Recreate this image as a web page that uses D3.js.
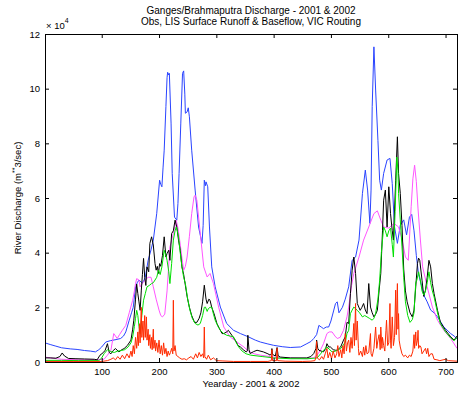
<!DOCTYPE html>
<html><head><meta charset="utf-8">
<script src="https://cdn.jsdelivr.net/npm/d3@7"></script>
<style>
body{margin:0;background:#fff;}
text{font-family:"Liberation Sans",Arial,Helvetica,sans-serif;}
</style></head>
<body><svg id="c" width="458" height="393"></svg>
<script>
// values in units of 10^4 m^3/sec, [yearday, discharge]
const titleLines = ["Ganges/Brahmaputra Discharge - 2001 & 2002", "Obs, LIS Surface Runoff & Baseflow, VIC Routing"];
const xTicks = [100,200,300,400,500,600,700];
const yTicks = [0,2,4,6,8,10,12];

const blueSeries = [[1,0.70],[10,0.64],[20,0.58],[30,0.52],[45,0.48],[57,0.46],[70,0.42],[80,0.40],[89,0.37],[95,0.45],[100,0.55],[107,0.73],[115,0.78],[125,0.82],[133,0.86],[138,0.95],[142,1.10],[148,1.53],[152,1.80],[155,2.00],[159,2.75],[162,2.90],[165,3.00],[170,2.90],[173,2.95],[176,3.10],[181,3.72],[186,4.10],[190,4.46],[196,5.44],[201,6.65],[203,6.50],[205,6.41],[207,7.10],[209,7.75],[212,9.34],[214,10.4],[215,10.6],[217,10.5],[218,10.56],[221,8.74],[223,6.9],[227,5.3],[231,5.19],[233,5.8],[235,6.9],[238,8.74],[241,10.56],[243,10.65],[245,9.8],[246,9.1],[249,9.15],[251,9.3],[253,8.97],[257,7.75],[263,6.29],[269,4.94],[275,4.34],[277,5.0],[279,6.65],[281,6.45],[282,6.59],[285,6.41],[288,4.94],[292,3.48],[298,2.75],[307,2.01],[318,1.41],[330,1.16],[342,1.04],[356,0.92],[368,0.80],[377,0.73],[390,0.66],[400,0.61],[415,0.56],[429,0.53],[447,0.55],[458,0.67],[465,0.75],[470,0.86],[475,1.00],[479,1.34],[483,1.28],[487,1.22],[492,1.28],[496,1.28],[500,1.50],[505,1.90],[508,2.14],[511,2.20],[514,1.80],[520,2.00],[525,2.30],[531,2.75],[537,3.72],[543,3.84],[549,4.46],[555,6.17],[560,7.02],[564,6.29],[568,5.07],[570,6.29],[572,9.34],[575,11.53],[578,9.95],[582,8.11],[585,6.65],[588,6.29],[592,6.9],[598,7.39],[603,7.45],[607,6.53],[611,4.94],[616,4.34],[621,5.0],[627,5.2],[632,4.65],[637,5.3],[641,5.4],[645,4.8],[649,3.9],[653,3.2],[658,2.8],[662,2.45],[668,2.2],[674,1.9],[680,1.8],[686,1.65],[697,1.28],[709,1.04],[715,0.95],[720,0.85]];

const magentaSeries = [[1,0.18],[10,0.15],[30,0.10],[60,0.08],[90,0.08],[104,0.10],[110,0.25],[116,0.43],[121,1.04],[124,0.95],[127,0.86],[131,1.0],[136,1.16],[142,1.34],[148,1.8],[154,2.26],[157,2.6],[159,2.87],[161,3.05],[165,3.0],[167,2.75],[172,2.9],[176,3.0],[181,3.1],[186,3.1],[190,2.75],[195,2.3],[200,1.9],[203,1.70],[206,1.65],[210,1.75],[214,2.6],[219,4.21],[225,4.7],[230,5.19],[233,4.9],[236,4.46],[240,3.8],[243,3.36],[246,3.5],[249,3.84],[253,4.6],[257,5.43],[261,6.04],[263,6.1],[266,5.92],[272,4.7],[278,3.48],[284,3.11],[289,3.24],[295,2.87],[304,2.01],[313,1.28],[324,0.92],[336,0.73],[348,0.55],[356,0.4],[366,0.3],[377,0.25],[400,0.18],[430,0.14],[458,0.12],[470,0.16],[476,0.25],[482,0.45],[487,0.67],[493,1.04],[497,1.1],[502,1.1],[507,0.95],[511,0.86],[516,0.9],[522,1.16],[528,1.65],[531,2.01],[536,2.8],[540,3.24],[549,3.84],[557,4.46],[566,4.94],[575,5.43],[581,5.53],[587,5.19],[592,4.94],[601,4.9],[610,5.07],[618,4.94],[624,4.5],[630,3.84],[635,3.72],[640,5.68],[643,6.7],[646,7.2],[649,6.6],[652,5.6],[656,4.5],[660,3.48],[668,2.75],[677,2.01],[686,1.53],[697,1.16],[709,0.86],[720,0.5]];

const obsSeries = [[1,0.15],[10,0.15],[20,0.14],[27,0.2],[31,0.33],[35,0.22],[42,0.13],[55,0.12],[70,0.11],[87,0.10],[92,0.08],[97,0.25],[103,0.35],[106,0.43],[110,0.67],[113,0.35],[116,0.30],[120,0.42],[124,0.49],[130,0.37],[135,0.45],[139,0.49],[145,0.61],[151,0.8],[154,1.2],[156,1.53],[159,2.3],[161,2.85],[163,2.5],[165,2.2],[167,1.89],[169,2.6],[171,3.2],[173,3.79],[175,3.1],[177,2.8],[179,3.48],[182,3.3],[184,4.34],[187,4.58],[190,4.28],[193,3.6],[195,3.36],[197,3.5],[199,3.24],[201,3.6],[203,3.5],[206,3.9],[209,4.58],[212,3.84],[214,3.97],[217,4.09],[219,3.72],[222,4.7],[225,4.8],[228,5.19],[231,4.94],[234,4.46],[237,4.09],[240,3.48],[243,3.2],[246,2.8],[249,2.4],[253,2.0],[257,1.7],[262,1.45],[266,1.45],[270,1.6],[273,1.8],[276,2.2],[279,2.81],[282,2.3],[284,2.14],[287,2.3],[289,2.26],[292,2.0],[296,1.77],[301,1.41],[304,1.28],[310,1.04],[313,1.04],[318,1.1],[321,1.16],[327,0.98],[333,0.8],[338,0.6],[342,0.55],[347,0.45],[352,0.37],[354,0.4],[355,0.98],[357,0.45],[359,0.31],[365,0.38],[371,0.43],[382,0.37],[390,0.3],[394,0.25],[396,0.3],[397,0.49],[398,0.28],[403,0.22],[406,0.53],[408,0.22],[412,0.18],[429,0.15],[458,0.15],[465,0.2],[470,0.31],[474,0.5],[475,0.8],[477,0.5],[479,0.43],[487,0.37],[491,0.5],[493,0.67],[496,0.55],[499,0.55],[504,0.45],[508,0.43],[511,0.43],[517,0.55],[522,0.8],[525,0.92],[528,1.45],[531,1.41],[534,2.5],[537,3.36],[540,3.84],[543,3.24],[546,2.14],[551,1.89],[554,2.0],[557,2.14],[560,1.9],[563,1.77],[566,2.87],[569,2.01],[572,1.8],[575,1.65],[578,1.75],[581,1.89],[584,2.6],[587,3.24],[590,4.8],[592,5.92],[595,6.29],[598,4.94],[601,6.41],[604,5.43],[607,4.8],[609,4.46],[613,6.65],[616,8.24],[618,6.9],[621,6.17],[624,5.0],[627,3.4],[630,2.6],[633,2.2],[638,1.8],[642,1.65],[645,1.9],[648,2.75],[651,3.6],[653,3.8],[655,3.72],[659,2.99],[662,2.4],[665,2.63],[668,3.1],[671,3.72],[674,3.48],[677,2.87],[680,2.5],[686,1.89],[691,1.46],[700,1.16],[709,0.92],[715,0.8],[720,0.95]];

const greenSeries = [[1,0.06],[30,0.06],[60,0.05],[95,0.05],[100,0.15],[104,0.3],[110,0.45],[116,0.38],[122,0.35],[128,0.4],[134,0.42],[140,0.45],[146,0.55],[151,0.7],[154,0.92],[157,1.3],[159,1.6],[161,1.89],[163,1.7],[165,1.3],[167,1.04],[170,1.7],[173,2.26],[176,2.5],[179,2.75],[183,2.8],[187,2.87],[190,2.9],[193,3.0],[196,3.1],[199,3.36],[202,3.2],[205,3.48],[209,4.09],[212,3.9],[214,3.72],[217,3.3],[219,2.87],[222,3.6],[225,4.46],[228,4.8],[230,4.94],[232,4.8],[234,4.58],[237,4.0],[240,3.48],[243,3.1],[246,2.87],[250,2.3],[254,1.89],[258,1.6],[263,1.41],[268,1.35],[272,1.41],[276,1.7],[279,2.0],[281,2.01],[284,1.85],[286,1.95],[289,2.0],[292,2.01],[295,1.75],[298,1.53],[303,1.3],[307,1.16],[312,1.05],[318,0.98],[324,0.95],[330,0.92],[335,0.7],[339,0.55],[345,0.4],[352,0.3],[360,0.25],[380,0.2],[400,0.15],[430,0.12],[460,0.12],[476,0.15],[482,0.3],[487,0.43],[493,0.55],[498,0.45],[502,0.37],[508,0.4],[513,0.45],[517,0.49],[521,0.6],[525,0.73],[528,1.04],[531,1.16],[534,1.77],[537,1.9],[540,2.01],[543,1.95],[546,1.89],[550,1.8],[555,1.65],[559,1.7],[563,1.65],[567,1.6],[572,1.53],[575,1.6],[578,1.77],[582,2.3],[585,2.99],[588,4.0],[592,4.94],[595,4.8],[598,4.58],[601,4.8],[604,4.9],[607,4.3],[609,3.84],[612,5.5],[615,7.5],[617,7.0],[618,6.17],[621,5.2],[624,4.21],[627,3.1],[630,2.2],[634,1.7],[638,1.45],[642,1.55],[645,1.8],[648,2.9],[650,3.0],[653,3.3],[656,3.0],[659,2.6],[662,2.45],[665,2.6],[668,2.9],[671,3.3],[674,2.9],[677,2.6],[680,2.38],[686,1.8],[691,1.4],[700,1.1],[709,0.88],[715,0.78],[720,0.9]];

const redSeries = [[1,0.02],[50,0.02],[100,0.02],[110,0.05],[116,0.1],[120,0.15],[124,0.08],[128,0.2],[132,0.1],[136,0.25],[140,0.12],[144,0.3],[148,0.15],[151,0.4],[153,0.2],[155,0.6],[157,0.3],[159,0.9],[161,0.5],[163,1.1],[164,0.6],[166,1.4],[167,0.7],[169,2.0],[170,0.9],[172,1.5],[173,0.8],[175,1.7],[176,0.9],[178,1.65],[179,0.8],[181,1.2],[182,0.6],[184,1.0],[185,0.5],[187,0.9],[188,0.45],[190,1.2],[191,0.5],[193,0.8],[194,0.4],[196,0.7],[198,0.35],[200,0.8],[202,0.3],[204,0.6],[206,0.25],[208,0.7],[210,0.3],[212,0.5],[214,0.2],[216,0.4],[218,0.25],[220,0.35],[222,0.5],[224,0.3],[225,2.26],[226,0.4],[228,0.6],[230,0.25],[233,0.2],[236,0.15],[240,0.1],[244,0.12],[248,0.08],[252,0.15],[256,0.2],[260,0.1],[264,0.3],[267,0.15],[270,0.35],[273,0.2],[276,0.3],[278,0.15],[279,1.28],[280,0.2],[283,0.1],[286,0.25],[290,0.08],[295,0.15],[300,0.05],[310,0.04],[330,0.02],[360,0.02],[390,0.02],[396,0.05],[397,0.45],[398,0.05],[405,0.05],[406,0.5],[407,0.05],[420,0.03],[450,0.02],[465,0.03],[472,0.05],[474,0.2],[475,0.75],[476,0.15],[480,0.08],[484,0.2],[487,0.1],[490,0.3],[493,0.5],[495,0.15],[498,0.35],[501,0.12],[504,0.4],[507,0.15],[510,0.3],[512,0.6],[514,0.2],[517,0.45],[519,0.15],[521,0.6],[523,0.3],[525,1.04],[527,0.4],[529,0.7],[531,0.8],[533,0.35],[535,0.9],[537,0.5],[540,1.41],[541,0.6],[543,2.14],[544,0.8],[546,1.5],[548,0.5],[549,0.25],[552,0.4],[555,0.2],[557,0.55],[559,0.25],[561,0.6],[563,0.3],[566,0.35],[569,1.04],[570,0.3],[572,0.2],[575,0.5],[578,1.28],[580,0.5],[582,0.8],[584,1.0],[586,0.45],[587,1.28],[589,0.5],[590,0.9],[592,0.6],[594,0.4],[596,1.16],[597,1.53],[599,0.6],[601,0.7],[603,2.14],[604,0.8],[605,0.5],[607,1.65],[609,0.6],[611,0.9],[613,2.63],[614,1.0],[616,2.87],[617,1.2],[618,1.77],[619,0.8],[621,0.55],[624,0.3],[627,0.2],[630,0.25],[634,0.15],[637,0.25],[640,0.2],[643,0.4],[645,1.0],[646,0.5],[648,1.1],[649,0.6],[651,0.8],[652,1.16],[653,0.5],[655,0.6],[657,0.55],[659,0.3],[662,0.4],[665,0.5],[667,0.3],[669,0.5],[671,0.2],[674,0.3],[677,0.3],[680,0.1],[685,0.08],[690,0.05],[700,0.1],[705,0.05],[720,0.03]];

const seriesList = [
  {name:"VIC routing (blue)", data: blueSeries, color:"#2a44ff"},
  {name:"magenta", data: magentaSeries, color:"#ff55ff"},
  {name:"Obs", data: obsSeries, color:"#000000"},
  {name:"green", data: greenSeries, color:"#00e000"},
  {name:"red", data: redSeries, color:"#ff2a00"}
];

const svg = d3.select("#c");
const L = 45, R = 457, T = 34, B = 362;
const x = d3.scaleLinear().domain([1,720]).range([L,R]);
const y = d3.scaleLinear().domain([0,12]).range([B,T]);

svg.append("rect").attr("width",458).attr("height",393).attr("fill","#fff");

svg.append("defs").append("clipPath").attr("id","clip")
  .append("rect").attr("x",L).attr("y",T).attr("width",R-L).attr("height",B-T);

const line = d3.line().x(d=>x(d[0])).y(d=>y(d[1]));
const g = svg.append("g").attr("clip-path","url(#clip)");
seriesList.forEach(s=>{
  g.append("path").datum(s.data).attr("d",line)
    .attr("fill","none").attr("stroke",s.color).attr("stroke-width",1)
    .attr("stroke-linejoin","round");
});

const fs = "9.5px";
// axes
const xb = svg.append("g").attr("transform",`translate(0,${B})`)
  .call(d3.axisBottom(x).tickValues(xTicks).tickSizeInner(-4).tickSizeOuter(0).tickPadding(6));
const xt = svg.append("g").attr("transform",`translate(0,${T})`)
  .call(d3.axisTop(x).tickValues(xTicks).tickSizeInner(-4).tickSizeOuter(0).tickFormat(""));
const yl = svg.append("g").attr("transform",`translate(${L},0)`)
  .call(d3.axisLeft(y).tickValues(yTicks).tickSizeInner(-4).tickSizeOuter(0).tickPadding(5));
const yr = svg.append("g").attr("transform",`translate(${R},0)`)
  .call(d3.axisRight(y).tickValues(yTicks).tickSizeInner(-4).tickSizeOuter(0).tickFormat(""));
[xb,xt,yl,yr].forEach(a=>{
  a.select(".domain").remove();
  a.selectAll("line").attr("stroke","#000");
  a.selectAll("text").attr("font-size",fs).attr("fill","#000").style("font-family","'Liberation Sans',Arial,sans-serif");
});
svg.append("rect").attr("x",L).attr("y",T).attr("width",R-L).attr("height",B-T)
  .attr("fill","none").attr("stroke","#000").attr("stroke-width",1).attr("shape-rendering","crispEdges");

// titles
titleLines.forEach((t,i)=>{
  svg.append("text").attr("x",(L+R)/2).attr("y",14+i*11).attr("text-anchor","middle")
    .attr("font-size","10px").text(t);
});
// exponent
const ex = svg.append("text").attr("x",46).attr("y",29).attr("font-size",fs);
ex.append("tspan").text("× 10");
ex.append("tspan").attr("dy",-6).attr("font-size","7px").text("4");

svg.append("text").attr("x",(L+R)/2).attr("y",387).attr("text-anchor","middle")
  .attr("font-size",fs).text("Yearday - 2001 & 2002");

const yt = svg.append("text").attr("transform",`translate(21,${(T+B)/2}) rotate(-90)`)
  .attr("text-anchor","middle").attr("font-size",fs);
yt.append("tspan").text("River Discharge (m");
yt.append("tspan").attr("dy",-4).attr("font-size","7px").text("**");
yt.append("tspan").attr("dy",4).text("3/sec)");
</script></body></html>
